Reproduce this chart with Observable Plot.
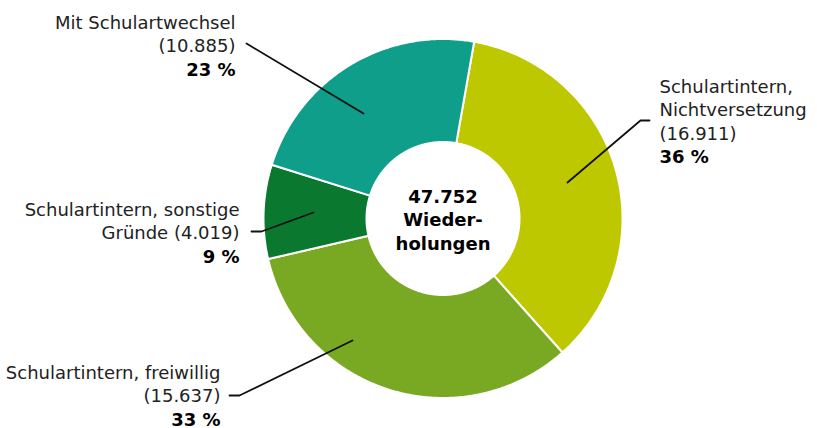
<!DOCTYPE html>
<html>
<head>
<meta charset="utf-8">
<script src="https://cdn.jsdelivr.net/npm/d3@7"></script>
<script src="https://cdn.jsdelivr.net/npm/@observablehq/plot@0.6"></script>
<style>
  html, body { margin: 0; padding: 0; background: #fff; }
  #chart { width: 817px; height: 428px; }
</style>
</head>
<body>
<div id="chart"></div>
<script>
// ---- data ----
const categories = [
  "Schulartintern, Nichtversetzung",
  "Schulartintern, freiwillig",
  "Schulartintern, sonstige Gründe",
  "Mit Schulartwechsel"
];
const values = [16911, 15637, 4019, 10885];
const valueLabels = ["(16.911)", "(15.637)", "(4.019)", "(10.885)"];
const percentLabels = ["36 %", "33 %", "9 %", "23 %"];
const nameLines = [
  ["Schulartintern,", "Nichtversetzung"],
  ["Schulartintern, freiwillig"],
  ["Schulartintern, sonstige"],
  ["Mit Schulartwechsel"]
];
const centerLines = ["47.752", "Wieder-", "holungen"];

// ---- styles / layout ----
const colors = ["#bec800", "#79a922", "#0a792f", "#0f9e8a"];
const W = 817, H = 428;
const cx = 442.5, cy = 218;
const outerR = 179.5, innerR = 76.5;
const startDeg = 10;
const fs = 18, lh = 23.5;
// label block: anchor x, first baseline y, text anchor; leader polyline (page coords)
const layout = [
  {x: 659 - cx, y: 92 - cy, anchor: "start",
   leader: [[649, 120], [640, 120], [567, 182]]},
  {x: 220 - cx, y: 378 - cy, anchor: "end",
   leader: [[229, 395], [239, 395], [352, 340]]},
  {x: 239 - cx, y: 215 - cy, anchor: "end",
   leader: [[251, 231], [261, 231], [313, 212]]},
  {x: 235 - cx, y: 28 - cy, anchor: "end",
   leader: [[246, 43], [246, 43], [363, 113]]}
];
const centerBaseline = 202 - cy;

// ---- geometry from data ----
const a0 = startDeg * Math.PI / 180;
const arcs = d3.pie().sort(null).startAngle(a0).endAngle(a0 + 2 * Math.PI)(values);
const slicePts = [];
arcs.forEach((a, i) => {
  const n = Math.max(8, Math.ceil((a.endAngle - a.startAngle) / 0.01));
  for (let k = 0; k <= n; k++) {
    const t = a.startAngle + (a.endAngle - a.startAngle) * k / n;
    slicePts.push({cat: categories[i], x: outerR * Math.sin(t), y: -outerR * Math.cos(t)});
  }
  for (let k = n; k >= 0; k--) {
    const t = a.startAngle + (a.endAngle - a.startAngle) * k / n;
    slicePts.push({cat: categories[i], x: innerR * Math.sin(t), y: -innerR * Math.cos(t)});
  }
});

const leaderPts = [];
layout.forEach((l, i) => l.leader.forEach(([px, py]) =>
  leaderPts.push({cat: categories[i], x: px - cx, y: py - cy})));

const normalText = [], boldText = [];
categories.forEach((c, i) => {
  const lines = [...nameLines[i]];
  if (i === 2) lines.push("Gründe " + valueLabels[i]); else lines.push(valueLabels[i]);
  lines.forEach((t, k) => normalText.push({t, x: layout[i].x, y: layout[i].y + k * lh, anchor: layout[i].anchor}));
  boldText.push({t: percentLabels[i], x: layout[i].x, y: layout[i].y + lines.length * lh, anchor: layout[i].anchor});
});
const centerText = centerLines.map((t, k) => ({t, x: 0, y: centerBaseline + k * lh}));

const off = -0.32 * fs; // baseline -> middle-anchored y

const chart = Plot.plot({
  width: W, height: H,
  margin: 0,
  x: {domain: [-cx, W - cx], range: [0, W], axis: null},
  y: {domain: [-cy, H - cy], range: [0, H], axis: null},
  color: {domain: categories, range: colors},
  style: {fontFamily: "Verdana, 'DejaVu Sans', sans-serif", fontSize: fs + "px", background: "#fff", color: "#111"},
  marks: [
    Plot.line(slicePts, {x: "x", y: "y", z: "cat", fill: "cat", stroke: "#fff", strokeWidth: 2, curve: "linear-closed"}),
    Plot.line(leaderPts, {x: "x", y: "y", z: "cat", stroke: "#111", strokeWidth: 1.8}),
    Plot.text(normalText.filter(d => d.anchor === "start"), {x: "x", y: "y", dy: off, text: "t", textAnchor: "start", lineAnchor: "middle", fontSize: fs, fill: "#222"}),
    Plot.text(normalText.filter(d => d.anchor === "end"), {x: "x", y: "y", dy: off, text: "t", textAnchor: "end", lineAnchor: "middle", fontSize: fs, fill: "#222"}),
    Plot.text(boldText.filter(d => d.anchor === "start"), {x: "x", y: "y", dy: off, text: "t", textAnchor: "start", lineAnchor: "middle", fontSize: fs, fontWeight: "bold", fill: "#000"}),
    Plot.text(boldText.filter(d => d.anchor === "end"), {x: "x", y: "y", dy: off, text: "t", textAnchor: "end", lineAnchor: "middle", fontSize: fs, fontWeight: "bold", fill: "#000"}),
    Plot.text(centerText, {x: "x", y: "y", dy: off, text: "t", textAnchor: "middle", lineAnchor: "middle", fontSize: fs, fontWeight: "bold", fill: "#000"})
  ]
});
document.getElementById("chart").appendChild(chart);
</script>
</body>
</html>
